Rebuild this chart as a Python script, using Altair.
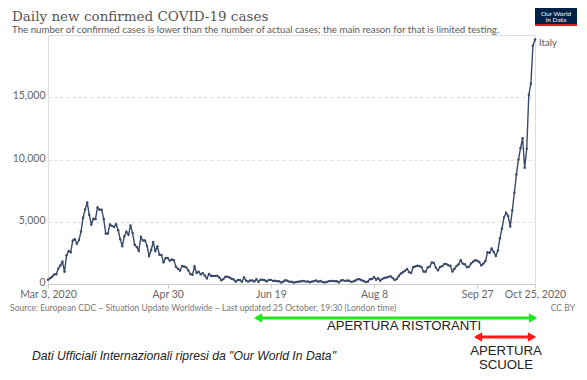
import altair as alt
import pandas as pd

# Daily new confirmed COVID-19 cases, Italy (ECDC), 3 Mar 2020 .. 25 Oct 2020
mar = [342, 466, 587, 769, 778, 1247, 1492, 1797, 977, 2313, 2651, 2547, 3497, 3590,
       3233, 3526, 4207, 5322, 5986, 6557, 5560, 4789, 5249, 5210, 6153, 5959, 5974,
       5217, 4050]
apr = [4053, 4782, 4668, 4585, 4805, 4316, 3599, 3039, 3836, 4204, 3951, 4694, 4092,
       3153, 2972, 2667, 3786, 3493, 3491, 3047, 2256, 2729, 3370, 2646, 3021, 2357,
       2324, 1739, 2091, 2086]
may = [1872, 1965, 1900, 1389, 1221, 1075, 1444, 1401, 1327, 1083, 802, 744, 1402, 888,
       992, 789, 875, 675, 451, 813, 665, 642, 652, 669, 531, 300, 397, 584, 593, 516, 416]
jun = [355, 178, 318, 321, 177, 518, 270, 197, 280, 283, 202, 379, 163, 346, 338, 301,
       210, 329, 333, 251, 262, 224, 218, 122, 190, 296, 259, 175, 174, 126]
jul = [142, 187, 201, 223, 235, 192, 208, 138, 193, 229, 276, 188, 234, 169, 114, 162,
       230, 233, 249, 219, 218, 129, 282, 306, 252, 275, 255, 170, 212, 289, 386]
aug = [379, 295, 239, 159, 190, 384, 402, 552, 347, 463, 259, 412, 481, 523, 574, 629,
       479, 320, 403, 642, 845, 947, 1071, 1210, 953, 878, 1367, 1411, 1462, 1444, 1365]
sep = [996, 978, 1326, 1397, 1733, 1695, 1297, 1108, 1370, 1434, 1597, 1616, 1501, 1458,
       1008, 1229, 1452, 1585, 1907, 1638, 1587, 1350, 1392, 1640, 1786, 1912, 1869, 1766,
       1494, 1648]
octo = [1851, 2548, 2499, 2844, 2578, 2257, 2677, 3678, 4458, 5372, 5724, 5456, 4619,
        5901, 7332, 8804, 10010, 10925, 11705, 9338, 10874, 15199, 16079, 19143, 19644]

cases = mar + apr + may + jun + jul + aug + sep + octo
dates = pd.date_range("2020-03-03", periods=len(cases), freq="D").strftime("%Y-%m-%d")
df = pd.DataFrame({"date": list(dates), "cases": cases})

y_ticks = [0, 5000, 10000, 15000]
x_tick_dates = [(3, 3), (4, 30), (6, 19), (8, 8), (9, 27), (10, 25)]

LINE = "#3a4a68"
LABEL_FONT = "Lato"

x_vals = [alt.DateTime(year=2020, month=m, date=d, utc=True) for m, d in x_tick_dates]
x_scale = alt.Scale(type="utc", domain=[x_vals[0], x_vals[-1]])

label_expr = ("utcFormat(datum.value, '%b %-d') + "
              "(((utcmonth(datum.value) == 2 && utcdate(datum.value) == 3) || "
              "(utcmonth(datum.value) == 9 && utcdate(datum.value) == 25)) ? ', 2020' : '')")

base = alt.Chart(df).encode(
    x=alt.X("date:T", scale=x_scale, title=None,
            axis=alt.Axis(values=x_vals, labelExpr=label_expr, grid=False,
                          domain=True, domainColor="#cccccc", ticks=True,
                          tickColor="#cccccc", tickSize=4, labelColor="#666666",
                          labelFont=LABEL_FONT, labelFontSize=10.5, labelPadding=1,
                          labelOverlap=False, labelFlush=False, labelBound=False)),
    y=alt.Y("cases:Q", scale=alt.Scale(domain=[0, 20000], nice=False), title=None,
            axis=alt.Axis(values=y_ticks, format=",.0f", grid=True, gridColor="#dddddd",
                          gridDash=[3, 3], domain=False, ticks=False,
                          labelColor="#666666", labelFont=LABEL_FONT,
                          labelFontSize=10.5, labelPadding=3, labelOffset=-1.5)),
)

line = base.mark_line(color=LINE, strokeWidth=1.4,
                      point=alt.OverlayMarkDef(filled=True, size=6, color=LINE))

one = pd.DataFrame({"k": [0]})


def txt(text, x, y, **kw):
    return alt.Chart(one).mark_text(**kw).encode(
        x=alt.value(x), y=alt.value(y), text=alt.value(text))


def rect(x, x2, y, y2, color):
    return alt.Chart(one).mark_rect(color=color).encode(
        x=alt.value(x), x2=alt.value(x2), y=alt.value(y), y2=alt.value(y2))


def arrow(x1, x2, y, color):
    r = alt.Chart(one).mark_rule(color=color, strokeWidth=3).encode(
        x=alt.value(x1 + 3), x2=alt.value(x2 - 3), y=alt.value(y))
    l = alt.Chart(one).mark_point(shape="triangle-left", filled=True, size=90,
                                  color=color, opacity=1).encode(
        x=alt.value(x1 + 5), y=alt.value(y))
    rr = alt.Chart(one).mark_point(shape="triangle-right", filled=True, size=90,
                                   color=color, opacity=1).encode(
        x=alt.value(x2 - 5), y=alt.value(y))
    return r + l + rr


title = txt("Daily new confirmed COVID-19 cases", -36, -14.3, font="DejaVu Serif",
            fontSize=13.5, color="#555555", align="left", baseline="alphabetic")
subtitle = txt("The number of confirmed cases is lower than the number of actual cases; "
               "the main reason for that is limited testing.", -36, -2.5,
               font=LABEL_FONT, fontSize=9.7, color="#5b5b5b", align="left",
               baseline="alphabetic")
logo = rect(487, 529, -28, -9, "#002147") + rect(487, 529, -11, -9, "#ce261e")
logo_t1 = txt("Our World", 508, -21, font=LABEL_FONT, fontSize=6.5, color="white",
              align="center", baseline="middle")
logo_t2 = txt("in Data", 508, -15, font=LABEL_FONT, fontSize=6.5, color="white",
              align="center", baseline="middle")
italy = txt("Italy", 491, 8, font=LABEL_FONT, fontSize=9.5, color="#555555",
            align="left", baseline="middle")
source = txt("Source: European CDC – Situation Update Worldwide – Last updated 25 October, "
             "19:30 (London time)", -38, 276, font=LABEL_FONT, fontSize=8.6,
             color="#777777", align="left", baseline="alphabetic")
ccby = txt("CC BY", 527, 276, font=LABEL_FONT, fontSize=8.6, color="#777777",
           align="right", baseline="alphabetic")

green = arrow(205, 490, 283, "#1ee81e")
red = arrow(425, 489, 302, "#ff1a1a")
rist = txt("APERTURA RISTORANTI", 356, 291, font="Liberation Sans", fontSize=13.2,
           color="#222222", align="center", baseline="middle")
scu1 = txt("APERTURA", 458, 316, font="Liberation Sans", fontSize=13.2,
           color="#222222", align="center", baseline="middle")
scu2 = txt("SCUOLE", 458, 330, font="Liberation Sans", fontSize=13.2,
           color="#222222", align="center", baseline="middle")
note = txt('Dati Ufficiali Internazionali ripresi da "Our World In Data"', -16, 321,
           font="Liberation Sans", fontSize=12.2, fontStyle="italic",
           color="#222222", align="left", baseline="middle")

chart = alt.layer(
    line, title, subtitle, logo, logo_t1, logo_t2, italy, source, ccby,
    green, red, rist, scu1, scu2, note
).properties(
    width=487, height=249,
    autosize=alt.AutoSizeParams(type="none"),
    padding={"left": 40, "top": 27, "right": 44, "bottom": 88},
).configure_view(stroke=None).configure(background="white")

chart.save("out.html", embed_options={"renderer": "svg", "actions": False})
